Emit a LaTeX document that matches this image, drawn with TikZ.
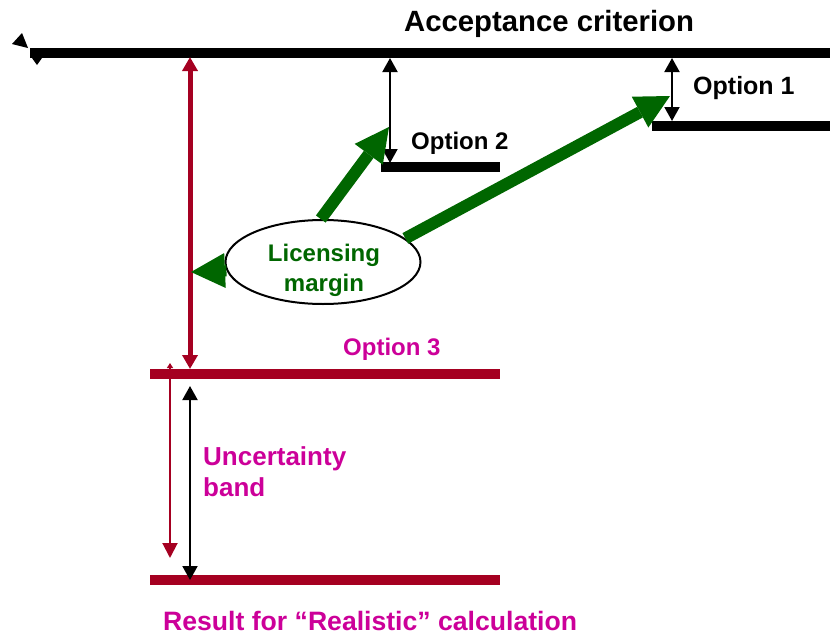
\documentclass[tikz,border=0pt]{standalone}
\usepackage{fontspec}
\setmainfont{Liberation Sans}
\usetikzlibrary{arrows.meta,shapes.geometric}

\definecolor{limitred}{RGB}{165,0,33}
\definecolor{notemagenta}{RGB}{204,0,153}
\definecolor{margingreen}{RGB}{0,102,0}

\begin{document}
\begin{tikzpicture}[
    x=1pt, y=-1pt,
    level/.style={line width=10pt},
    gap/.style={draw, line width=2pt, >={Triangle[length=14pt,width=15pt]}, <->},
    push/.style={draw=margingreen, line width=12pt, >={Triangle[length=34pt,width=35pt,line width=0pt]}, ->},
    note/.style={font=\bfseries\fontsize{25}{31}\selectfont, inner sep=0pt}
]
\useasboundingbox (0,0) rectangle (830,637);

% Define level end points
\coordinate (crit-w) at (30,53);   \coordinate (crit-e) at (830,53);
\coordinate (opt1-w) at (652,126); \coordinate (opt1-e) at (830,126);
\coordinate (opt2-w) at (381,167); \coordinate (opt2-e) at (500,167);
\coordinate (opt3-w) at (150,374); \coordinate (opt3-e) at (500,374);
\coordinate (real-w) at (150,580); \coordinate (real-e) at (500,580);

% Draw levels
\foreach \lv/\col in {crit/black, opt1/black, opt2/black, opt3/limitred, real/limitred} {
    \draw[level, \col] (\lv-w) -- (\lv-e);
}

% Small tips at the left end of the criterion
\fill (22,33) -- (12,44) -- (28,48) -- cycle;
\fill (32,58) -- (42,58) -- (37,65) -- cycle;

% Define arrow end points
\coordinate (a1-top) at (672,58);  \coordinate (a1-bot) at (672,121);
\coordinate (a2-top) at (390,58);  \coordinate (a2-bot) at (390,163);
\coordinate (ab-top) at (190,386); \coordinate (ab-bot) at (190,580);
\coordinate (r-top) at (190,57);   \coordinate (r-bot) at (190,369);
\coordinate (u-top) at (170,363);  \coordinate (u-bot) at (170,558);

% Red arrows
\draw[limitred, line width=5pt, >={Triangle[length=14pt,width=15pt]}, <->] (r-top) -- (r-bot);
\draw[limitred, line width=2pt, arrows={Triangle[length=5pt,width=6pt]}-{Triangle[length=15pt,width=15pt]}] (u-top) -- (u-bot);

% Black gap arrows
\foreach \a in {a1, a2, ab} {
    \draw[gap] (\a-top) -- (\a-bot);
}

% Labels
\node[note, font=\bfseries\fontsize{29.3}{34}\selectfont, anchor=base west] (crit) at (404,31) {Acceptance criterion};
\node[note, anchor=base west] (o1) at (693,94) {Option 1};
\node[note, font=\bfseries\fontsize{24}{30}\selectfont, anchor=base west] (o2) at (411,149) {Option 2};
\node[note, font=\bfseries\fontsize{24}{30}\selectfont, notemagenta, anchor=base west] (o3) at (343,355) {Option 3};
\node[note, font=\bfseries\fontsize{26}{31}\selectfont, notemagenta, align=left, anchor=west] (band) at (203,472) {Uncertainty\\band};
\node[note, font=\bfseries\fontsize{26.6}{31}\selectfont, notemagenta, anchor=base west] (result) at (163,630) {Result for “Realistic” calculation};

% Licensing margin
\node[ellipse, draw, line width=2pt, minimum width=195pt, minimum height=84pt, inner sep=0pt] (margin) at (323,262) {};
\node[note, font=\bfseries\fontsize{24}{30}\selectfont, margingreen, align=center] (margintext) at (324,270) {Licensing\\margin};

\coordinate (t1) at (670,96);
\coordinate (t2) at (389,127);
\coordinate (t3) at (191,272);
\draw[push] (margin.16) -- (t1);
\draw[push] (margin.93) -- (t2);
\draw[push] (margin.185) -- (t3);

\end{tikzpicture}
\end{document}
